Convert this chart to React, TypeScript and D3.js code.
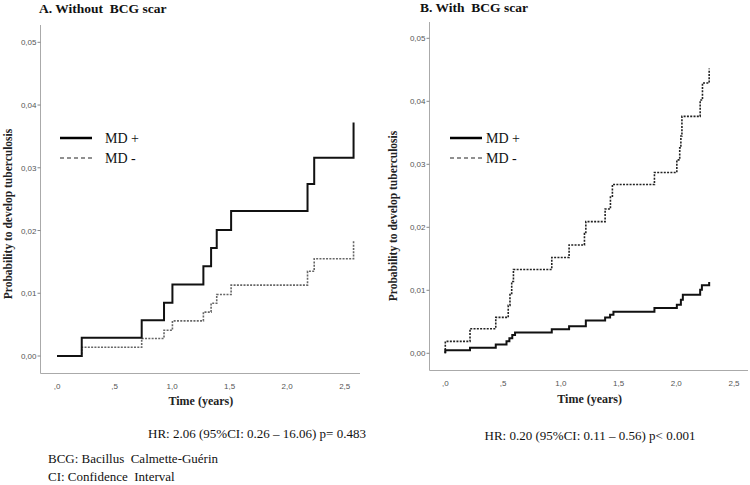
import React from "react";
import * as d3 from "d3";

const xTicks = [0, 0.5, 1.0, 1.5, 2.0, 2.5];
const xTickLabels = [",0", ",5", "1,0", "1,5", "2,0", "2,5"];
const yTicks = [0, 0.01, 0.02, 0.03, 0.04, 0.05];
const yTickLabels = ["0,00", "0,01", "0,02", "0,03", "0,04", "0,05"];

// Panel A: without BCG scar
const aTimes = [0, 0.215, 0.736, 0.93, 1.003, 1.272, 1.339, 1.388, 1.513, 2.177, 2.235, 2.577];
const aMDplus = [0, 0.0029, 0.0057, 0.0085, 0.0114, 0.0143, 0.0172, 0.0201, 0.0231, 0.0274, 0.0316, 0.0372];
const aMDminus = [0, 0.0014, 0.0028, 0.0041, 0.0056, 0.007, 0.0084, 0.0098, 0.0113, 0.0135, 0.0155, 0.0183];

// Panel B: with BCG scar
const bMinusTimes = [0, 0, 0.214, 0.437, 0.545, 0.56, 0.575, 0.59, 0.922, 1.072, 1.205, 1.217, 1.384, 1.43, 1.447, 1.811, 2.005, 2.03, 2.04, 2.049, 2.207, 2.227, 2.285];
const bMDminus = [0, 0.0019, 0.0039, 0.0057, 0.0076, 0.0095, 0.0114, 0.0133, 0.0152, 0.0172, 0.019, 0.0209, 0.0229, 0.0248, 0.0268, 0.0287, 0.0307, 0.0326, 0.0345, 0.0376, 0.0402, 0.0429, 0.0452];
const bPlusTimes = [0, 0, 0.214, 0.437, 0.53, 0.555, 0.58, 0.604, 0.922, 1.072, 1.217, 1.384, 1.427, 1.456, 1.811, 2.005, 2.04, 2.057, 2.207, 2.222, 2.285];
const bMDplus = [0, 0.0005, 0.0009, 0.0014, 0.0019, 0.0024, 0.0029, 0.0033, 0.0038, 0.0043, 0.0052, 0.0057, 0.0061, 0.0066, 0.0072, 0.0077, 0.0085, 0.0093, 0.0101, 0.0108, 0.0113];

const legendLabels = ["MD +", "MD -"];
const panelTitles = ["A. Without  BCG scar", "B. With  BCG scar"];
const hrTexts = ["HR: 2.06 (95%CI: 0.26 \u2013 16.06) p= 0.483", "HR: 0.20 (95%CI: 0.11 \u2013 0.56) p< 0.001"];
const footnotes = ["BCG: Bacillus  Calmette-Gu\u00e9rin", "CI: Confidence  Interval"];

const serif = "'Liberation Serif', 'Times New Roman', serif";
const sans = "'Liberation Sans', Arial, sans-serif";
const pre = { whiteSpace: "pre" as const };

type PanelProps = {
  title: string;
  titleX: number;
  titleY: number;
  axisX: number;
  axisTop: number;
  axisBottom: number;
  axisRight: number;
  x0: number;
  x25: number;
  y0: number;
  y05: number;
  plusT: number[];
  plusV: number[];
  minusT: number[];
  minusV: number[];
  legendX: number;
  legendTextX: number;
  yTitleX: number;
  yTitleY: number;
  xTitleY: number;
  minusColor: string;
};

function Panel(p: PanelProps) {
  const x = d3.scaleLinear().domain([0, 2.5]).range([p.x0, p.x25]);
  const y = d3.scaleLinear().domain([0, 0.05]).range([p.y0, p.y05]);
  const line = d3
    .line<[number, number]>()
    .x((d) => x(d[0]))
    .y((d) => y(d[1]))
    .curve(d3.curveStepAfter);
  const plusPts = p.plusT.map((t, i) => [t, p.plusV[i]] as [number, number]);
  const minusPts = p.minusT.map((t, i) => [t, p.minusV[i]] as [number, number]);
  const xMid = (p.x0 + p.x25) / 2;
  return (
    <g>
      <text x={p.titleX} y={p.titleY} fontFamily={serif} fontWeight="bold" fontSize={13.5} fill="#111" style={pre}>
        {p.title}
      </text>
      <line x1={p.axisX} x2={p.axisX} y1={p.axisTop} y2={p.axisBottom} stroke="#aaa" strokeWidth={1} />
      <line x1={p.axisX} x2={p.axisRight} y1={p.axisBottom} y2={p.axisBottom} stroke="#aaa" strokeWidth={1} />
      {yTicks.map((t, i) => (
        <g key={"y" + i}>
          <line x1={p.axisX - 3} x2={p.axisX} y1={y(t)} y2={y(t)} stroke="#888" strokeWidth={1} />
          <text x={p.axisX - 4} y={y(t) + 3} textAnchor="end" fontFamily={sans} fontSize={8} fill="#555">
            {yTickLabels[i]}
          </text>
        </g>
      ))}
      {xTicks.map((t, i) => (
        <text key={"x" + i} x={x(t)} y={p.axisBottom + 15} textAnchor="middle" fontFamily={sans} fontSize={8} fill="#555">
          {xTickLabels[i]}
        </text>
      ))}
      <text x={xMid} y={p.xTitleY} textAnchor="middle" fontFamily={serif} fontWeight="bold" fontSize={12} fill="#222">
        Time (years)
      </text>
      <text
        transform={`translate(${p.yTitleX},${p.yTitleY}) rotate(-90)`}
        textAnchor="middle"
        fontFamily={serif}
        fontWeight="bold"
        fontSize={11.5}
        fill="#222"
      >
        Probability to develop tuberculosis
      </text>
      <path d={line(minusPts) || ""} fill="none" stroke={p.minusColor} strokeWidth={1.6} strokeDasharray="2,1.3" />
      <path d={line(plusPts) || ""} fill="none" stroke="#111" strokeWidth={2} />
      <line x1={p.legendX} x2={p.legendX + 32} y1={138} y2={138} stroke="#000" strokeWidth={2.5} />
      <text x={p.legendTextX} y={142.5} fontFamily={serif} fontSize={14} fill="#111" style={pre}>
        {legendLabels[0]}
      </text>
      <line x1={p.legendX} x2={p.legendX + 32} y1={158} y2={158} stroke="#222" strokeWidth={1.2} strokeDasharray="4,3" />
      <text x={p.legendTextX} y={162.5} fontFamily={serif} fontSize={14} fill="#111" style={pre}>
        {legendLabels[1]}
      </text>
    </g>
  );
}

export default function App() {
  return (
    <svg width={750} height={485} style={{ position: "absolute", left: 0, top: 0, background: "#fff" }}>
      <rect x={0} y={0} width={750} height={485} fill="#fff" />
      <Panel
        title={panelTitles[0]}
        titleX={39}
        titleY={13}
        axisX={40.5}
        axisTop={25}
        axisBottom={373.5}
        axisRight={360}
        x0={57}
        x25={344.7}
        y0={356}
        y05={42.3}
        plusT={aTimes}
        plusV={aMDplus}
        minusT={aTimes}
        minusV={aMDminus}
        legendX={60}
        legendTextX={105}
        yTitleX={12}
        yTitleY={214}
        xTitleY={405}
        minusColor="#666"
      />
      <Panel
        title={panelTitles[1]}
        titleX={420}
        titleY={11.5}
        axisX={429.5}
        axisTop={22}
        axisBottom={370.5}
        axisRight={748}
        x0={445.3}
        x25={734}
        y0={353.3}
        y05={38.3}
        plusT={bPlusTimes}
        plusV={bMDplus}
        minusT={bMinusTimes}
        minusV={bMDminus}
        legendX={450}
        legendTextX={486}
        yTitleX={397}
        yTitleY={216}
        xTitleY={403}
        minusColor="#222"
      />
      <text x={257} y={438} textAnchor="middle" fontFamily={serif} fontSize={13} fill="#111">
        {hrTexts[0]}
      </text>
      <text x={590} y={440} textAnchor="middle" fontFamily={serif} fontSize={13} fill="#111">
        {hrTexts[1]}
      </text>
      <text x={48} y={463} fontFamily={serif} fontSize={13} fill="#111" style={pre}>
        {footnotes[0]}
      </text>
      <text x={48} y={481} fontFamily={serif} fontSize={13} fill="#111" style={pre}>
        {footnotes[1]}
      </text>
    </svg>
  );
}
